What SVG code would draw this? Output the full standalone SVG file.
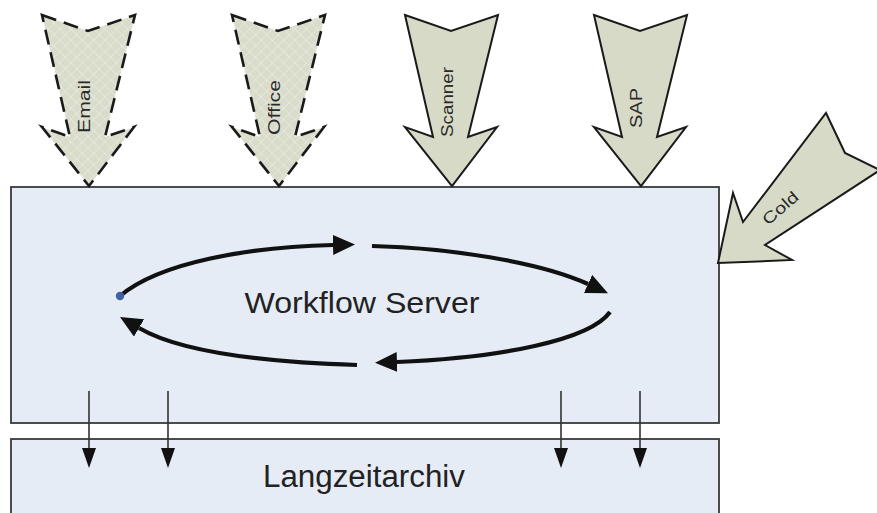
<svg xmlns="http://www.w3.org/2000/svg" width="877" height="513" viewBox="0 0 877 513">
  <style>
    .box { fill: #e6ecf6; stroke: #3a3a3a; stroke-width: 1.8; }
    .input { fill: #d7dac7; stroke: #1a1a1a; stroke-width: 2; stroke-linejoin: miter; }
    .input.dashed { fill: url(#hatch); stroke-width: 2.6; stroke-dasharray: 15 8; }
    .label { font-family: "Liberation Sans", Arial, sans-serif; fill: #222; }
    .vlabel { font-family: "Liberation Sans", Arial, sans-serif; font-size: 16px; fill: #2a2a2a; }
    .loop { fill: none; stroke: #111; stroke-width: 4.2; }
    .drop { stroke: #333; stroke-width: 1.6; }
  </style>
  <defs>
    <pattern id="hatch" width="8" height="8" patternUnits="userSpaceOnUse" patternTransform="rotate(45)">
      <rect width="8" height="8" fill="#d9dccb"/>
      <path d="M0,0 H8 M0,0 V8" stroke="#eef0e6" stroke-width="1"/>
    </pattern>
    <marker id="loopHead" viewBox="0 0 22 20" refX="0" refY="10" markerWidth="22" markerHeight="20" markerUnits="userSpaceOnUse" orient="auto">
      <path d="M0,0 L22,10 L0,20 Z" fill="#111"/>
    </marker>
    <marker id="dropHead" viewBox="0 0 14 20" refX="7" refY="0" markerWidth="14" markerHeight="20" markerUnits="userSpaceOnUse" orient="0">
      <path d="M0,0 L14,0 L7,20 Z" fill="#111"/>
    </marker>
    <!-- block arrow pointing down, centred on x=0 -->
    <path id="blockArrow" d="M-46,15 L0,31 L47,15 L17,137 L46,127 L1,186 L-46,127 L-18,137 Z"/>
  </defs>

  <!-- containers -->
  <g id="langzeitarchiv">
    <rect class="box" x="11" y="439" width="708" height="90"/>
    <text class="label" x="364" y="487" font-size="31" text-anchor="middle" textLength="202" lengthAdjust="spacingAndGlyphs">Langzeitarchiv</text>
  </g>

  <g id="workflow-server">
    <rect class="box" x="11" y="187" width="708" height="236"/>
    <text class="label" x="362" y="313" font-size="30" text-anchor="middle" textLength="235" lengthAdjust="spacingAndGlyphs">Workflow Server</text>
  </g>

  <!-- document sources -->
  <g id="email">
    <use href="#blockArrow" class="input dashed" transform="translate(88,0)"/>
    <text class="vlabel" transform="translate(90,133) rotate(-90)" textLength="53" lengthAdjust="spacingAndGlyphs">Email</text>
  </g>
  <g id="office">
    <use href="#blockArrow" class="input dashed" transform="translate(278,0)"/>
    <text class="vlabel" transform="translate(280,135) rotate(-90)" textLength="55" lengthAdjust="spacingAndGlyphs">Office</text>
  </g>
  <g id="scanner">
    <use href="#blockArrow" class="input" transform="translate(451,0)"/>
    <text class="vlabel" transform="translate(453,137) rotate(-90)" textLength="70" lengthAdjust="spacingAndGlyphs">Scanner</text>
  </g>
  <g id="sap">
    <use href="#blockArrow" class="input" transform="translate(640,0)"/>
    <text class="vlabel" transform="translate(642,128) rotate(-90)" textLength="40" lengthAdjust="spacingAndGlyphs">SAP</text>
  </g>
  <g id="cold">
    <path class="input" d="M826,113 L845,153 L880,170 L765,245 L792,260 L718,263 L733,193 L743,222 Z"/>
    <text class="vlabel" transform="translate(768,226) rotate(-41)" textLength="42" lengthAdjust="spacingAndGlyphs">Cold</text>
  </g>

  <!-- workflow cycle and archive transfers -->
  <g id="connectors">
    <path class="loop" d="M120,296 C160,262 250,247 333,245" marker-end="url(#loopHead)"/>
    <path class="loop" d="M372,246 C450,248 540,262 588,284" marker-end="url(#loopHead)"/>
    <path class="loop" d="M610,312 C590,340 500,358 397,362" marker-end="url(#loopHead)"/>
    <path class="loop" d="M357,365 C260,362 180,352 139,328" marker-end="url(#loopHead)"/>
    <circle cx="120" cy="296" r="4.2" fill="#3f63a0"/>

    <line class="drop" x1="89" y1="391" x2="89" y2="448" marker-end="url(#dropHead)"/>
    <line class="drop" x1="168" y1="391" x2="168" y2="448" marker-end="url(#dropHead)"/>
    <line class="drop" x1="561" y1="391" x2="561" y2="448" marker-end="url(#dropHead)"/>
    <line class="drop" x1="640" y1="391" x2="640" y2="448" marker-end="url(#dropHead)"/>
  </g>
</svg>
